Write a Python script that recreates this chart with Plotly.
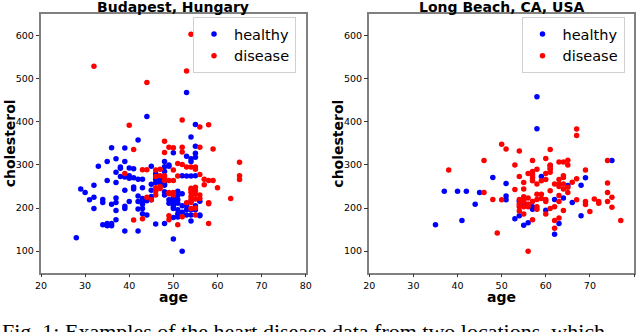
import plotly.graph_objects as go

# Budapest, Hungary
bud_healthy_age = [44,53,55,54,42,36,39,55,50,55,55,53,35,37,39,33,38,38,40,41,45,48,49,54,54,48,49,37,38,39,40,40,41,42,43,35,37,39,41,41,43,45,46,29,30,32,31,32,32,34,34,36,37,37,37,39,39,40,42,42,43,43,43,44,45,45,45,42,43,43,44,34,35,35,36,36,37,39,42,28,46,46,48,52,53,54,55,46,46,47,48,51,52,56,56,50,50,50,50,51,51,51,51,51,51,52,52,53,53,53,54,54,54,55,55,48,50,50,52,54,56,47,47,48,48,48,49,49,50]
bud_healthy_chol = [412,468,394,365,358,340,339,343,328,327,318,320,308,314,308,297,295,292,293,291,297,308,300,314,308,296,297,283,273,272,275,269,270,267,267,264,259,241,249,244,247,255,277,244,236,253,219,225,199,220,213,209,223,213,194,204,199,215,228,215,222,215,209,217,241,227,219,198,199,187,184,161,164,159,164,159,173,147,147,131,163,280,285,275,274,274,275,267,259,259,256,239,233,216,182,225,217,208,199,229,219,211,196,186,179,205,190,205,196,184,215,196,184,205,196,164,178,128,100,170,184,265,257,253,238,230,219,211,203]
bud_disease_age = [32,54,53,44,52,56,58,40,41,48,49,50,52,56,59,48,52,43,44,46,39,51,52,53,54,55,55,47,50,56,51,48,48,48,47,49,50,46,47,49,49,50,50,54,54,54,55,55,55,57,58,59,57,60,65,65,65,63,58,58,58,56,54,54,54,53,55,55,54,49,49,51,41,43,46,46,45,44,52,55,56,46,47]
bud_disease_chol = [529,603,518,491,404,388,393,392,336,355,341,340,341,341,337,329,330,289,289,288,280,303,301,295,295,295,290,290,288,278,274,275,270,264,275,264,264,273,250,236,233,236,230,246,242,236,248,240,232,267,264,264,254,247,306,275,266,222,212,210,164,230,227,219,213,212,221,184,199,182,173,161,172,175,247,239,219,225,180,200,222,230,245]

# Long Beach, CA, USA
lb_healthy_age = [58,58,61,59,48,69,51,65,68,37,40,42,45,51,51,62,64,66,55,57,57,60,68,63,62,53,54,55,56,44,41,35,75,56,54]
lb_healthy_chol = [458,384,298,273,271,270,257,252,253,239,239,239,236,228,219,220,223,213,212,203,197,195,182,164,139,175,182,160,166,209,171,161,310,208,216]
lb_disease_age = [67,67,50,51,54,61,46,38,57,60,63,64,65,74,53,57,57,57,57,56,61,61,60,54,69,67,60,63,64,64,66,55,55,58,62,63,63,64,64,61,65,65,46,53,74,74,74,75,75,77,48,50,54,55,55,55,56,57,58,58,59,59,60,60,63,67,69,69,71,72,72,54,55,56,54,58,58,60,61,62,64,70,62,63,62,55,57,49,56,61,61,59,56,58,65,63,54]
lb_disease_chol = [383,368,348,337,332,336,310,288,310,315,307,307,311,310,300,285,278,271,263,280,290,283,280,273,288,268,266,266,275,271,260,259,244,256,256,256,250,256,244,240,248,236,236,243,258,236,215,225,202,171,220,219,220,226,220,215,223,215,232,220,232,222,220,215,215,219,215,208,221,215,211,203,203,203,193,203,197,186,199,203,194,192,171,177,153,186,173,142,100,300,293,263,209,290,300,229,209]

titles = ["Budapest, Hungary", "Long Beach, CA, USA"]
x_ticks = [20, 30, 40, 50, 60, 70, 80]
y_ticks = [100, 200, 300, 400, 500, 600]
caption = "Fig. 1: Examples of the heart disease data from two locations, which"

BLUE = "#0000ff"
RED = "#ff0000"
FONT = "DejaVu Sans"
W, H = 640, 332

fig = go.Figure()

panels = [
    (bud_healthy_age, bud_healthy_chol, bud_disease_age, bud_disease_chol, "x", "y", "legend"),
    (lb_healthy_age, lb_healthy_chol, lb_disease_age, lb_disease_chol, "x2", "y2", "legend2"),
]
for ha, hc, da, dc, xa, ya, lg in panels:
    fig.add_trace(go.Scatter(x=ha, y=hc, mode="markers", name="healthy",
                             marker=dict(color=BLUE, size=5.5), xaxis=xa, yaxis=ya, legend=lg))
    fig.add_trace(go.Scatter(x=da, y=dc, mode="markers", name="disease",
                             marker=dict(color=RED, size=5.5), xaxis=xa, yaxis=ya, legend=lg))

axis_common = dict(range=[20, 80], tickvals=x_ticks, showgrid=False, zeroline=False,
                   showline=True, mirror=True, linecolor="#808080", linewidth=1.5,
                   ticks="outside", ticklen=3, tickcolor="#333333", automargin=False,
                   tickfont=dict(family=FONT, size=9.5, color="black"))
yaxis_common = dict(range=[50, 650], tickvals=y_ticks, showgrid=False, zeroline=False,
                    showline=True, mirror=True, linecolor="#808080", linewidth=1.5,
                    ticks="outside", ticklen=3.5, tickcolor="#333333", automargin=False,
                    tickfont=dict(family=FONT, size=9.5, color="black"))

left_dom = [41 / W, 305.7 / W]
right_dom = [369.3 / W, 634 / W]
ydom = [1 - 272.7 / H, 1 - 14 / H]
fig.update_layout(
    xaxis=dict(domain=left_dom, anchor="y", **axis_common),
    yaxis=dict(domain=ydom, anchor="x", **yaxis_common),
    xaxis2=dict(domain=right_dom, anchor="y2", **axis_common),
    yaxis2=dict(domain=ydom, anchor="x2", **yaxis_common),
)

legend_common = dict(xanchor="left", yanchor="top", bgcolor="white",
                     bordercolor="#d0d0d0", borderwidth=1,
                     font=dict(family=FONT, size=14.5, color="black"),
                     tracegroupgap=0, itemwidth=30)
fig.update_layout(
    legend=dict(x=193 / W, y=1 - 17 / H, **legend_common),
    legend2=dict(x=521.5 / W, y=1 - 17 / H, **legend_common),
)

for i, t in enumerate(titles):
    dom = [left_dom, right_dom][i]
    cx = (dom[0] + dom[1]) / 2
    fig.add_annotation(text=f"<b>{t}</b>", x=cx, y=1 - 6.5 / H, xref="paper", yref="paper",
                       xanchor="center", yanchor="middle", showarrow=False,
                       font=dict(family=FONT, size=14, color="black"))
    fig.add_annotation(text="<b>age</b>", x=cx, y=1 - 296.5 / H, xref="paper", yref="paper",
                       xanchor="center", yanchor="middle", showarrow=False, borderpad=0,
                       font=dict(family=FONT, size=14, color="black"))
    fig.add_annotation(text="<b>cholesterol</b>", x=(dom[0] * W - 31) / W, y=(ydom[0] + ydom[1]) / 2,
                       xref="paper", yref="paper", textangle=-90,
                       xanchor="center", yanchor="middle", showarrow=False,
                       font=dict(family=FONT, size=14, color="black"))

fig.add_annotation(text=caption, x=0, y=1 - 317 / H, xref="paper", yref="paper",
                   xanchor="left", yanchor="top", showarrow=False,
                   font=dict(family="Liberation Serif", size=22, color="black"))

fig.update_layout(width=W, height=H, margin=dict(l=0, r=0, t=0, b=0),
                  paper_bgcolor="white", plot_bgcolor="white", showlegend=True)

fig.write_html("out.html", config={"displayModeBar": False},
               post_script="document.body.style.margin='0';")
